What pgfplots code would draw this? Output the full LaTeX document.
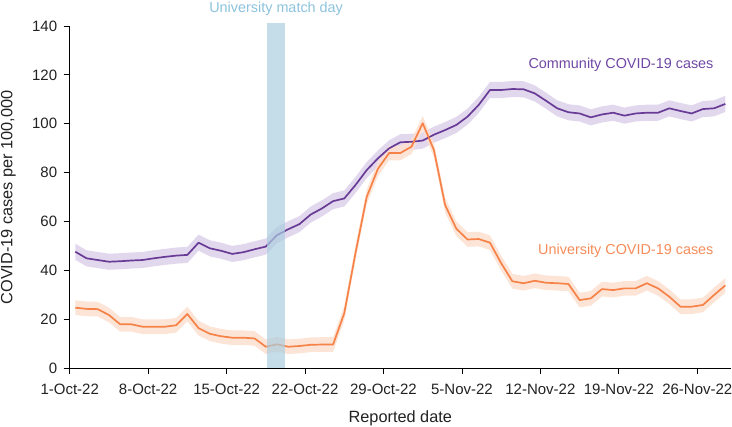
\documentclass[border=0pt]{standalone}
\usepackage{fontspec}
\setmainfont{Liberation Sans}
\usepackage{pgfplots}
\pgfplotsset{compat=1.18}
\usepackage{pgfplotstable}
\usepgfplotslibrary{fillbetween}
\definecolor{cpurple}{RGB}{104,60,150}
\definecolor{cpurpleband}{RGB}{226,216,238}
\definecolor{corange}{RGB}{246,130,72}
\definecolor{corangeband}{RGB}{252,224,208}
\definecolor{cblue}{RGB}{172,205,224}
\definecolor{cbluetext}{RGB}{140,194,220}
\definecolor{corangetext}{RGB}{246,140,90}
\definecolor{cpurpletext}{RGB}{112,72,164}
\definecolor{ctick}{RGB}{34,34,34}
\newcommand\tickfont{\fontsize{15bp}{18bp}\selectfont}
\newcommand\labfont{\fontsize{16.3bp}{19bp}\selectfont}
\newcommand\annfont{\fontsize{14.4bp}{17bp}\selectfont}

% x = day index + 0.5 (1-Oct-22 tick at 0), c = community, u = university
\pgfplotstableread{
x c u
0.5 47.6 24.7
1.5 44.9 24.2
2.5 44.2 24.1
3.5 43.5 21.7
4.5 43.7 17.9
5.5 44.0 17.9
6.5 44.2 16.9
7.5 44.9 16.9
8.5 45.5 16.9
9.5 46.0 17.5
10.5 46.3 22.1
11.5 51.3 16.3
12.5 49.0 14.0
13.5 48.0 13.0
14.5 46.7 12.4
15.5 47.4 12.4
16.5 48.6 12.1
17.5 49.7 8.7
18.5 54.4 9.7
19.5 56.8 8.7
20.5 58.9 9.0
21.5 62.8 9.5
22.5 65.3 9.6
23.5 68.3 9.6
24.5 69.4 22.4
25.5 74.9 47.0
26.5 81.0 70.0
27.5 85.8 81.5
28.5 89.9 88.0
29.5 92.4 88.0
30.5 92.6 90.6
31.5 93.1 100.2
32.5 95.5 89.2
33.5 97.4 66.7
34.5 99.5 57.0
35.5 102.9 52.6
36.5 107.7 52.8
37.5 113.8 51.3
38.5 113.8 42.9
39.5 114.2 35.5
40.5 114.1 34.7
41.5 112.4 35.7
42.5 109.4 34.9
43.5 106.3 34.7
44.5 104.7 34.4
45.5 104.2 27.8
46.5 102.6 28.5
47.5 103.8 32.3
48.5 104.5 31.9
49.5 103.3 32.6
50.5 104.2 32.6
51.5 104.5 34.7
52.5 104.5 32.6
53.5 106.3 29.2
54.5 105.2 25.1
55.5 104.2 25.1
56.5 106.0 25.8
57.5 106.3 29.9
58.5 108.1 33.8
}\data

\begin{document}
\begin{tikzpicture}
\begin{axis}[
  at={(69.7bp,59bp)}, anchor=south west,
  scale only axis, width=661.2bp, height=342bp,
  xmin=0, xmax=59, ymin=0, ymax=140,
  clip=false,
  axis lines=left,
  axis line style={-, black, line width=0.8bp},
  xtick={0,7,14,21,28,35,42,49,56},
  xticklabels={1-Oct-22,8-Oct-22,15-Oct-22,22-Oct-22,29-Oct-22,5-Nov-22,12-Nov-22,19-Nov-22,26-Nov-22},
  ytick={0,20,40,60,80,100,120,140},
  tick align=outside,
  major tick length=6bp,
  tick style={black, line width=0.8bp},
  /pgf/number format/assume math mode=true,
  xticklabel style={font=\tickfont, text=ctick, yshift=-7bp},
  yticklabel style={font=\tickfont, text=ctick, xshift=-3bp},
  xlabel={Reported date},
  ylabel={COVID-19 cases per 100,000},
  xlabel style={font=\labfont, text=ctick, at={(axis description cs:0.5,-0.1475)}, anchor=center},
  ylabel style={font=\labfont, text=ctick, at={(axis description cs:-0.0926,0.4985)}, anchor=center},
]
% confidence bands
\addplot[draw=none, name path=cu, forget plot] table[x=x, y expr=\thisrow{c}+3.3]{\data};
\addplot[draw=none, name path=cl, forget plot] table[x=x, y expr=\thisrow{c}-3.3]{\data};
\addplot[fill=cpurpleband, draw=none, forget plot] fill between[of=cu and cl];
\addplot[draw=none, name path=uu, forget plot] table[x=x, y expr=\thisrow{u}+3.0]{\data};
\addplot[draw=none, name path=ul, forget plot] table[x=x, y expr=\thisrow{u}-3.0]{\data};
\addplot[fill=corangeband, draw=none, fill opacity=0.85, forget plot] fill between[of=uu and ul];
% lines
\addplot[cpurple, line width=1.7bp, line join=round] table[x=x, y=c]{\data};
\addplot[corange, line width=1.7bp, line join=round] table[x=x, y=u]{\data};
% match day band
\addplot[fill=cblue, draw=none, fill opacity=0.7] coordinates {(17.64,0) (19.25,0) (19.25,141.1) (17.64,141.1)} -- cycle;
% annotations
\node[anchor=east, inner sep=0pt, font=\annfont, text=cpurpletext] at (axis cs:57.46,124) {Community COVID-19 cases};
\node[anchor=east, inner sep=0pt, font=\annfont, text=corangetext] at (axis cs:57.46,48) {University COVID-19 cases};
\node[anchor=center, inner sep=0pt, font=\annfont, text=cbluetext] at (axis cs:18.42,147) {University match day};
\end{axis}
\pgfresetboundingbox
\path[use as bounding box] (0,0) rectangle (732bp,427bp);
\end{tikzpicture}
\end{document}
